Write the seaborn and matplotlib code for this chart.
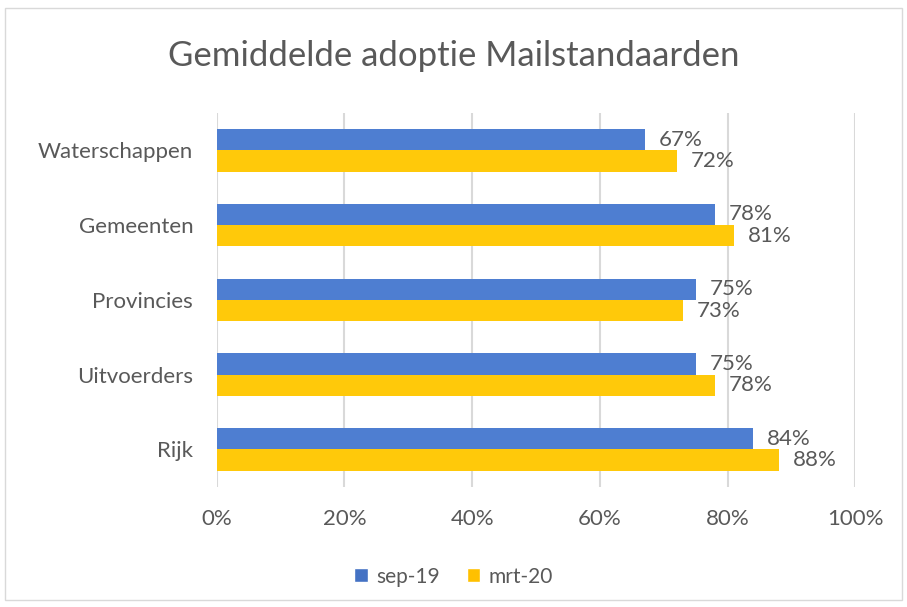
import pandas as pd
import matplotlib.pyplot as plt
import seaborn as sns
from matplotlib.patches import Rectangle, Patch
from matplotlib.ticker import FuncFormatter

categories = ['Waterschappen', 'Gemeenten', 'Provincies', 'Uitvoerders', 'Rijk']
sep19 = [67, 78, 75, 75, 84]
mrt20 = [72, 81, 73, 78, 88]
series_names = ['sep-19', 'mrt-20']
colors = ['#4E7ED1', '#FFC90A']
legend_colors = ['#4472C4', '#FFC000']

df = pd.DataFrame({
    'Categorie': categories * 2,
    'Waarde': sep19 + mrt20,
    'Periode': [series_names[0]] * len(categories) + [series_names[1]] * len(categories),
})

sns.set_style('white')
plt.rcParams['font.family'] = ['Lato', 'DejaVu Sans']
text_grey = '#595959'

fig = plt.figure(figsize=(9.07, 6.07), dpi=100)
ax = fig.add_axes([0.239, 0.198, 0.704, 0.616])

sns.barplot(data=df, y='Categorie', x='Waarde', hue='Periode', order=categories,
            hue_order=series_names, palette=colors, orient='h', width=0.57,
            saturation=1, linewidth=0, legend=False, ax=ax)

for cont in ax.containers:
    ax.bar_label(cont, labels=[f'{v:.0f}%' for v in cont.datavalues], padding=10,
                 fontsize=16, color=text_grey)

ax.set_xlim(0, 100)
ax.set_xticks([0, 20, 40, 60, 80, 100])
ax.xaxis.set_major_formatter(FuncFormatter(lambda v, p: f'{v:.0f}%'))
ax.grid(axis='x', color='#D9D9D9', linewidth=1.5)
ax.set_axisbelow(True)
for s in ax.spines.values():
    s.set_visible(False)
ax.set_xlabel('')
ax.set_ylabel('')
ax.tick_params(axis='both', length=0, labelsize=16, labelcolor=text_grey)
ax.tick_params(axis='x', pad=16)
ax.tick_params(axis='y', pad=17)

fig.text(0.5, 0.908, 'Gemiddelde adoptie Mailstandaarden', ha='center', va='center',
         fontsize=25, color=text_grey)

handles = [Patch(facecolor=c, label=n) for c, n in zip(legend_colors, series_names)]
fig.legend(handles=handles, loc='center', bbox_to_anchor=(0.5, 0.05), ncol=2,
           frameon=False, fontsize=15, labelcolor=text_grey, handlelength=0.65,
           handleheight=0.65, handletextpad=0.4, columnspacing=1.3)

fig.patches.append(Rectangle((0.006, 0.012), 0.988, 0.974, transform=fig.transFigure,
                             fill=False, edgecolor='#D9D9D9', linewidth=1))

plt.savefig('out.png', dpi=100)
